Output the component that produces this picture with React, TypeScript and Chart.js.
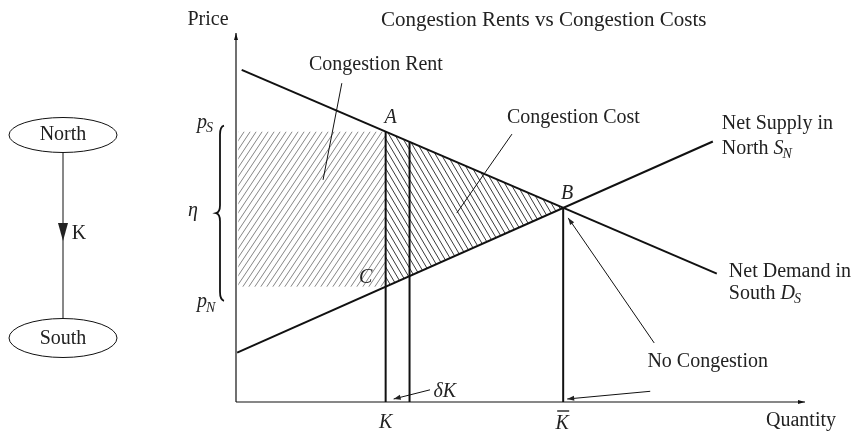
import React, { useEffect, useRef } from "react";
import { Chart, registerables } from "chart.js";
Chart.register(...registerables);

// ---------- data (data units 0..100) ----------
const TITLE = "Congestion Rents vs Congestion Costs";
const X_LABEL = "Quantity";
const Y_LABEL = "Price";

const demandX = [1.0, 84.5];
const demandY = [90.0, 34.8];
const supplyX = [0.2, 83.8];
const supplyY = [13.4, 70.6];

const capacityK = 26.3; // K
const capacityKdK = 30.5; // K + δK
const capacityKbar = 57.5; // K bar
const pointB = [57.5, 52.6];
const priceS = 73.3; // p_S
const priceN = 31.2; // p_N
const rentLeft = 0.4;

const FONT = '"Liberation Serif", "Times New Roman", serif';
const f = (size: number, italic = false) => `${italic ? "italic " : ""}${size}px ${FONT}`;

function interp(xs: number[], ys: number[], x: number) {
  const t = (x - xs[0]) / (xs[1] - xs[0]);
  return ys[0] + t * (ys[1] - ys[0]);
}
const demandAt = (x: number) => interp(demandX, demandY, x);
const supplyAt = (x: number) => interp(supplyX, supplyY, x);

function hatch(ctx: CanvasRenderingContext2D, l: number, t: number, r: number, b: number, spacing: number, slope: number, dir: number) {
  const h = b - t;
  const dx = h / slope;
  ctx.beginPath();
  for (let x0 = l - dx - spacing; x0 <= r + dx + spacing; x0 += spacing) {
    if (dir > 0) {
      ctx.moveTo(x0, b);
      ctx.lineTo(x0 + dx, t);
    } else {
      ctx.moveTo(x0, t);
      ctx.lineTo(x0 + dx, b);
    }
  }
  ctx.stroke();
}

function arrow(ctx: CanvasRenderingContext2D, x1: number, y1: number, x2: number, y2: number, len = 7, half = 2.5) {
  ctx.beginPath();
  ctx.moveTo(x1, y1);
  ctx.lineTo(x2, y2);
  ctx.stroke();
  const a = Math.atan2(y2 - y1, x2 - x1);
  ctx.beginPath();
  ctx.moveTo(x2, y2);
  ctx.lineTo(x2 - len * Math.cos(a) + half * Math.sin(a), y2 - len * Math.sin(a) - half * Math.cos(a));
  ctx.lineTo(x2 - len * Math.cos(a) - half * Math.sin(a), y2 - len * Math.sin(a) + half * Math.cos(a));
  ctx.closePath();
  ctx.fill();
}

function text(ctx: CanvasRenderingContext2D, s: string, x: number, y: number, size: number, italic = false, align: CanvasTextAlign = "left") {
  ctx.font = f(size, italic);
  ctx.textAlign = align;
  ctx.textBaseline = "middle";
  ctx.fillText(s, x, y);
}

// base text + italic symbol with italic subscript, starting at x
function symSub(ctx: CanvasRenderingContext2D, plain: string, sym: string, sub: string, x: number, y: number, size: number) {
  ctx.textBaseline = "middle";
  ctx.textAlign = "left";
  let cx = x;
  if (plain) {
    ctx.font = f(size);
    ctx.fillText(plain, cx, y);
    cx += ctx.measureText(plain).width;
  }
  ctx.font = f(size, true);
  ctx.fillText(sym, cx, y);
  cx += ctx.measureText(sym).width;
  ctx.font = f(size * 0.7, true);
  ctx.fillText(sub, cx - 1, y + size * 0.3);
  cx += ctx.measureText(sub).width;
  return cx;
}

const diagramPlugin = {
  id: "diagram",
  beforeDatasetsDraw(chart: any) {
    const { ctx, scales } = chart;
    const px = (v: number) => scales.x.getPixelForValue(v);
    const py = (v: number) => scales.y.getPixelForValue(v);
    // Congestion rent rectangle hatch
    ctx.save();
    const l = px(rentLeft), r = px(capacityK), t = py(priceS), b = py(priceN);
    ctx.beginPath();
    ctx.rect(l, t, r - l, b - t);
    ctx.clip();
    ctx.strokeStyle = "#777";
    ctx.lineWidth = 0.9;
    hatch(ctx, l, t, r, b, 6, 1.5, 1);
    ctx.restore();
    // Congestion cost triangle hatch
    ctx.save();
    const ax = px(capacityK), ay = py(demandAt(capacityK));
    const bx = px(pointB[0]), by = py(pointB[1]);
    const cy = py(supplyAt(capacityK));
    ctx.beginPath();
    ctx.moveTo(ax, ay);
    ctx.lineTo(bx, by);
    ctx.lineTo(ax, cy);
    ctx.closePath();
    ctx.clip();
    ctx.strokeStyle = "#222";
    ctx.lineWidth = 0.9;
    hatch(ctx, ax, ay, bx, cy, 5.8, 1.7, -1);
    ctx.restore();
  },
  afterDatasetsDraw(chart: any) {
    const { ctx, scales } = chart;
    const px = (v: number) => scales.x.getPixelForValue(v);
    const py = (v: number) => scales.y.getPixelForValue(v);
    const x0 = px(0), y0 = py(0);
    ctx.save();
    ctx.strokeStyle = "#111";
    ctx.fillStyle = "#111";
    // axes
    ctx.lineWidth = 1.2;
    arrow(ctx, x0, y0, x0, py(100), 7, 2);
    arrow(ctx, x0, y0, px(100), y0, 7, 2);

    ctx.fillStyle = "#222";
    // title & axis labels
    text(ctx, TITLE, 381, 20, 21);
    text(ctx, Y_LABEL, 208, 20, 20, false, "center");
    text(ctx, X_LABEL, 801, 421, 20, false, "center");

    // points
    const A = [px(capacityK), py(demandAt(capacityK))];
    const B = [px(pointB[0]), py(pointB[1])];
    const C = [px(capacityK), py(supplyAt(capacityK))];
    text(ctx, "A", A[0] + 5, A[1] - 14, 20, true, "center");
    text(ctx, "B", B[0] + 4, B[1] - 14, 20, true, "center");
    text(ctx, "C", C[0] - 20, C[1] - 9, 20, true, "center");

    // congestion rent
    text(ctx, "Congestion Rent", px(24.6), py(91.3), 20, false, "center");
    ctx.lineWidth = 1;
    ctx.beginPath();
    ctx.moveTo(px(18.6), py(86.4));
    ctx.lineTo(px(15.3), py(60.2));
    ctx.stroke();
    // congestion cost
    text(ctx, "Congestion Cost", px(59.3), py(77.0), 20, false, "center");
    ctx.beginPath();
    ctx.moveTo(px(48.5), py(72.6));
    ctx.lineTo(px(38.8), py(51.2));
    ctx.stroke();

    // curve labels
    const sEnd = [px(supplyX[1]), py(supplyY[1])];
    text(ctx, "Net Supply in", sEnd[0] + 9, sEnd[1] - 18, 20);
    symSub(ctx, "North ", "S", "N", sEnd[0] + 9, sEnd[1] + 7, 20);
    const dEnd = [px(demandX[1]), py(demandY[1])];
    text(ctx, "Net Demand in", dEnd[0] + 12, dEnd[1] - 2, 20);
    symSub(ctx, "South ", "D", "S", dEnd[0] + 12, dEnd[1] + 20, 20);

    // no congestion
    text(ctx, "No Congestion", px(82.9), py(10.8), 20, false, "center");
    ctx.lineWidth = 1;
    arrow(ctx, px(72.8), py(2.9), px(capacityKbar) + 4, y0 - 3);
    arrow(ctx, px(73.5), py(16.0), B[0] + 5, B[1] + 10);

    // delta K
    text(ctx, "δK", px(36.7), py(2.7), 20, true, "center");
    arrow(ctx, px(34.1), py(3.3), px(capacityK) + 8, y0 - 3);

    // K, K bar
    text(ctx, "K", px(capacityK), y0 + 21, 20, true, "center");
    text(ctx, "K", px(capacityKbar) - 1, y0 + 22, 20, true, "center");
    ctx.lineWidth = 1.3;
    ctx.beginPath();
    ctx.moveTo(px(capacityKbar) - 6, y0 + 9);
    ctx.lineTo(px(capacityKbar) + 6, y0 + 9);
    ctx.stroke();

    // p_S, p_N, eta, brace
    const ySp = py(priceS), yNp = py(priceN);
    symSub(ctx, "", "p", "S", 197, ySp - 9, 20);
    symSub(ctx, "", "p", "N", 197, yNp + 15, 20);
    text(ctx, "η", 193, (ySp + yNp) / 2 + 2, 20, true, "center");
    const bx = 221, top = ySp - 6, bot = yNp + 14, mid = (top + bot) / 2;
    ctx.lineWidth = 1.8;
    ctx.beginPath();
    ctx.moveTo(bx + 3, top);
    ctx.quadraticCurveTo(bx - 1, top + 1, bx - 1, top + 9);
    ctx.lineTo(bx - 1, mid - 8);
    ctx.quadraticCurveTo(bx - 1, mid - 1, bx - 5, mid);
    ctx.quadraticCurveTo(bx - 1, mid + 1, bx - 1, mid + 8);
    ctx.lineTo(bx - 1, bot - 9);
    ctx.quadraticCurveTo(bx - 1, bot - 1, bx + 3, bot);
    ctx.stroke();

    // North -> South network sketch
    ctx.lineWidth = 1;
    ctx.beginPath();
    ctx.ellipse(63, 135, 54, 17.5, 0, 0, Math.PI * 2);
    ctx.stroke();
    ctx.beginPath();
    ctx.ellipse(63, 338, 54, 19.5, 0, 0, Math.PI * 2);
    ctx.stroke();
    ctx.beginPath();
    ctx.moveTo(63, 153);
    ctx.lineTo(63, 318);
    ctx.stroke();
    ctx.beginPath();
    ctx.moveTo(58, 223);
    ctx.lineTo(68, 223);
    ctx.lineTo(63, 241);
    ctx.closePath();
    ctx.fill();
    text(ctx, "North", 63, 135, 20, false, "center");
    text(ctx, "South", 63, 339, 20, false, "center");
    text(ctx, "K", 79, 234, 20, false, "center");
    ctx.restore();
  },
};

export default function App() {
  const ref = useRef<HTMLCanvasElement>(null);
  useEffect(() => {
    document.body.style.margin = "0";
    if (!ref.current) return;
    const lineStyle = { borderColor: "#111", borderWidth: 2, pointRadius: 0, showLine: true, fill: false };
    const chart = new Chart(ref.current, {
      type: "scatter",
      data: {
        datasets: [
          { ...lineStyle, label: "Net Demand in South", data: demandX.map((x, i) => ({ x, y: demandY[i] })) },
          { ...lineStyle, label: "Net Supply in North", data: supplyX.map((x, i) => ({ x, y: supplyY[i] })) },
          { ...lineStyle, label: "K", data: [{ x: capacityK, y: 0 }, { x: capacityK, y: demandAt(capacityK) }] },
          { ...lineStyle, label: "K+δK", data: [{ x: capacityKdK, y: 0 }, { x: capacityKdK, y: demandAt(capacityKdK) }] },
          { ...lineStyle, label: "K bar", data: [{ x: capacityKbar, y: 0 }, { x: capacityKbar, y: pointB[1] }] },
        ],
      },
      options: {
        responsive: false,
        animation: false,
        layout: { padding: { left: 236, right: 52, top: 33, bottom: 30 } },
        scales: {
          x: { type: "linear", min: 0, max: 100, display: false },
          y: { type: "linear", min: 0, max: 100, display: false },
        },
        plugins: { legend: { display: false }, tooltip: { enabled: false }, title: { display: false } },
      },
      plugins: [diagramPlugin],
    });
    return () => chart.destroy();
  }, []);
  return <canvas ref={ref} width={857} height={432} style={{ display: "block" }} />;
}
